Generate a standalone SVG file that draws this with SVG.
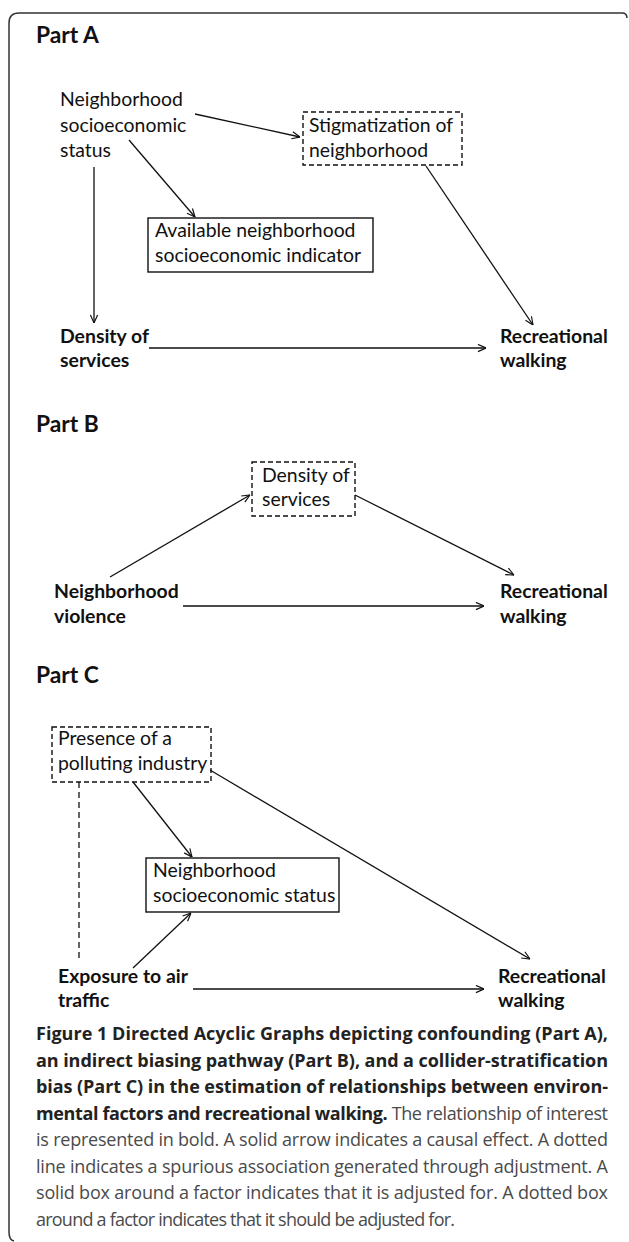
<svg xmlns="http://www.w3.org/2000/svg" width="629" height="1242" viewBox="0 0 629 1242">
<style>
.t{font-family:Lato,"Liberation Sans",sans-serif;font-size:19.4px;fill:#111}
.b{font-family:Lato,"Liberation Sans",sans-serif;font-size:19.4px;font-weight:bold;fill:#111}
.h{font-family:Lato,"Liberation Sans",sans-serif;font-size:22.8px;font-weight:bold;fill:#111}
.cb{font-family:"Open Sans","Liberation Sans",sans-serif;font-size:18px;font-weight:bold;fill:#222}
.cr{font-family:"Open Sans","Liberation Sans",sans-serif;font-size:18px;font-weight:normal;fill:#4a4a4a}
.box{fill:none;stroke:#111;stroke-width:1.4}
.dbox{fill:none;stroke:#111;stroke-width:1.4;stroke-dasharray:5,3}
.e{fill:none;stroke:#111;stroke-width:1.3;marker-end:url(#arr)}
.d{fill:none;stroke:#111;stroke-width:1.3;stroke-dasharray:6,4}
</style>
<defs>
<marker id="arr" viewBox="0 0 10 10" refX="10" refY="5" markerWidth="9" markerHeight="9" markerUnits="userSpaceOnUse" orient="auto">
<path d="M1,1 L10,5 L1,9" fill="none" stroke="#111" stroke-width="1.3"/>
</marker>
</defs>
<rect width="629" height="1242" fill="#fff"/>
<path d="M627,18 Q627,13 622,13 L19,13 Q9,13 9,23 L9,1232 Q9,1240 14,1241" fill="none" stroke="#333" stroke-width="1.5"/>

<g id="labels">
<text class="h" x="36" y="43">Part A</text>
<text class="h" x="36" y="432">Part B</text>
<text class="h" x="36" y="683">Part C</text>
</g>

<g id="connectors">
<line class="e" x1="195" y1="114" x2="300" y2="137"/>
<line class="e" x1="129" y1="140" x2="195" y2="217"/>
<line class="e" x1="94" y1="167" x2="94" y2="323"/>
<line class="e" x1="426" y1="166" x2="533" y2="325"/>
<line class="e" x1="149" y1="348" x2="486" y2="348"/>
<line class="e" x1="110" y1="577" x2="250" y2="495"/>
<line class="e" x1="355" y1="495" x2="514" y2="575"/>
<line class="e" x1="183" y1="606" x2="484" y2="606"/>
<line class="d" x1="79" y1="782" x2="79" y2="962"/>
<line class="e" x1="133" y1="782" x2="192" y2="857"/>
<line class="e" x1="210" y1="770" x2="530" y2="959"/>
<line class="e" x1="133" y1="968" x2="191" y2="913"/>
<line class="e" x1="193" y1="989" x2="484" y2="989"/>
</g>

<g id="a_nses">
<text class="t" x="60" y="106">Neighborhood</text>
<text class="t" x="60" y="132">socioeconomic</text>
<text class="t" x="60" y="157">status</text>
</g>
<g id="a_stigma">
<rect class="dbox" x="303" y="112" width="159" height="53"/>
<text class="t" x="309" y="132">Stigmatization of</text>
<text class="t" x="309" y="157">neighborhood</text>
</g>
<g id="a_indicator">
<rect class="box" x="148" y="218" width="225" height="54"/>
<text class="t" x="155" y="237">Available neighborhood</text>
<text class="t" x="155" y="262">socioeconomic indicator</text>
</g>
<g id="a_density">
<text class="b" x="60" y="343">Density of</text>
<text class="b" x="60" y="367">services</text>
</g>
<g id="a_walking">
<text class="b" x="500" y="343">Recreational</text>
<text class="b" x="500" y="367">walking</text>
</g>

<g id="b_density">
<rect class="dbox" x="252" y="462" width="103" height="54"/>
<text class="t" x="262" y="482">Density of</text>
<text class="t" x="262" y="506">services</text>
</g>
<g id="b_violence">
<text class="b" x="54" y="598">Neighborhood</text>
<text class="b" x="54" y="623">violence</text>
</g>
<g id="b_walking">
<text class="b" x="500" y="598">Recreational</text>
<text class="b" x="500" y="623">walking</text>
</g>

<g id="c_industry">
<rect class="dbox" x="52" y="727" width="159" height="55"/>
<text class="t" x="58" y="745">Presence of a</text>
<text class="t" x="58" y="770">polluting industry</text>
</g>
<g id="c_nses">
<rect class="box" x="146" y="858" width="193" height="54"/>
<text class="t" x="153" y="877">Neighborhood</text>
<text class="t" x="153" y="902">socioeconomic status</text>
</g>
<g id="c_air">
<text class="b" x="58" y="983">Exposure to air</text>
<text class="b" x="58" y="1007">traffic</text>
</g>
<g id="c_walking">
<text class="b" x="498" y="983">Recreational</text>
<text class="b" x="498" y="1007">walking</text>
</g>

<g id="caption">
<text class="cb" x="36" y="1040" textLength="572" lengthAdjust="spacing">Figure 1 Directed Acyclic Graphs depicting confounding (Part A),</text>
<text class="cb" x="36" y="1066.5" textLength="572" lengthAdjust="spacing">an indirect biasing pathway (Part B), and a collider-stratification</text>
<text class="cb" x="36" y="1093" textLength="572" lengthAdjust="spacing">bias (Part C) in the estimation of relationships between environ-</text>
<text class="cb" x="36" y="1119.5" textLength="572" lengthAdjust="spacing">mental factors and recreational walking.<tspan class="cr"> The relationship of interest</tspan></text>
<text class="cr" x="36" y="1146" textLength="572" lengthAdjust="spacing">is represented in bold. A solid arrow indicates a causal effect. A dotted</text>
<text class="cr" x="36" y="1172.5" textLength="572" lengthAdjust="spacing">line indicates a spurious association generated through adjustment. A</text>
<text class="cr" x="36" y="1199" textLength="572" lengthAdjust="spacing">solid box around a factor indicates that it is adjusted for. A dotted box</text>
<text class="cr" x="36" y="1225.5" textLength="419" lengthAdjust="spacing">around a factor indicates that it should be adjusted for.</text>
</g>
</svg>
